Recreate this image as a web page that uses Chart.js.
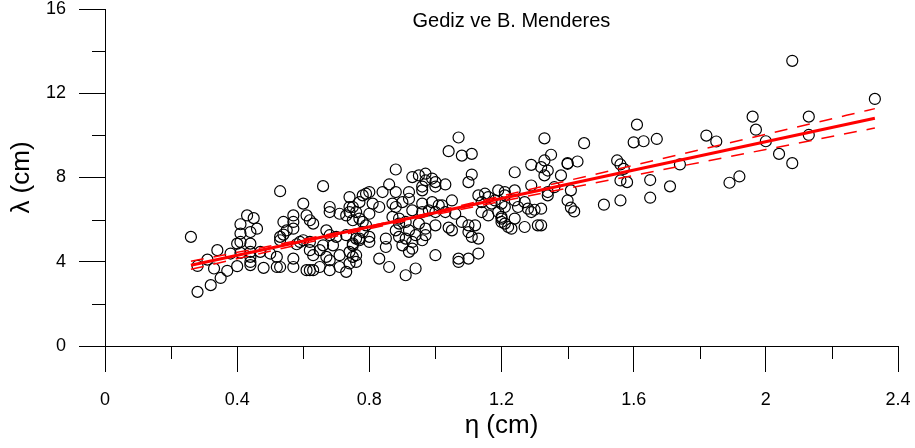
<!DOCTYPE html>
<html>
<head>
<meta charset="utf-8">
<title>Gediz ve B. Menderes</title>
<script src="https://cdn.jsdelivr.net/npm/chart.js@4.4.1/dist/chart.umd.min.js"></script>
<style>
  html, body { margin: 0; padding: 0; background: #fff; }
  canvas { display: block; }
</style>
</head>
<body>
<canvas id="myChart" width="915" height="448"></canvas>
<script>
// measured pairs: eta (cm), lambda (cm)
const samples = [
    [0.26, 5.18], [0.43, 6.20], [0.45, 6.07], [0.41, 5.78], [0.46, 5.57], [0.41, 5.34], [0.44, 5.41],
    [0.40, 4.86], [0.41, 4.94], [0.44, 4.86], [0.34, 4.55], [0.38, 4.39], [0.41, 4.42], [0.44, 4.47],
    [0.44, 4.23], [0.44, 3.99], [0.44, 3.84], [0.31, 4.10], [0.28, 3.80], [0.33, 3.68], [0.37, 3.57],
    [0.40, 3.79], [0.48, 3.71], [0.47, 4.47], [0.50, 4.39], [0.35, 3.23], [0.32, 2.89], [0.28, 2.57],
    [0.52, 3.75], [0.53, 5.18],
    [0.53, 7.35], [0.66, 7.59], [0.60, 6.76], [0.74, 7.07], [0.77, 6.83], [0.68, 6.60], [0.68, 6.36],
    [0.74, 6.60], [0.74, 6.36], [0.71, 6.28], [0.73, 6.20], [0.57, 6.20], [0.61, 6.20], [0.62, 5.97],
    [0.63, 5.81], [0.54, 5.89], [0.57, 5.89], [0.57, 5.57], [0.55, 5.49], [0.54, 5.29], [0.53, 5.02],
    [0.76, 6.36], [0.67, 5.49], [0.68, 5.26], [0.70, 5.18], [0.73, 5.26], [0.75, 4.86], [0.77, 5.02],
    [0.60, 5.02], [0.62, 4.94], [0.58, 4.83], [0.59, 4.94], [0.66, 4.78], [0.69, 4.78], [0.62, 4.55],
    [0.65, 4.55], [0.63, 4.31], [0.67, 4.23], [0.71, 4.31], [0.74, 4.47], [0.75, 4.23], [0.57, 4.15],
    [0.52, 4.23], [0.53, 3.75], [0.57, 3.75], [0.61, 3.60], [0.62, 3.60], [0.63, 3.60], [0.65, 3.75],
    [0.68, 4.07], [0.71, 3.75], [0.73, 3.52], [0.74, 3.92], [0.68, 3.60],
    [0.88, 8.38], [0.95, 8.10], [0.93, 8.02], [0.97, 8.18], [0.97, 7.86], [0.86, 7.67], [0.84, 7.31],
    [0.88, 7.31], [0.92, 7.31], [0.96, 7.39], [0.80, 7.31], [0.79, 7.23], [0.78, 7.15], [0.81, 6.76],
    [0.83, 6.60], [0.87, 6.76], [0.88, 6.60], [0.90, 6.83], [0.92, 6.99], [0.93, 6.44], [0.96, 6.76],
    [0.75, 6.60], [0.80, 6.28], [0.77, 6.05], [0.75, 5.97], [0.87, 6.13], [0.89, 6.05], [0.78, 5.89],
    [0.79, 5.73], [0.89, 5.81], [0.91, 5.89], [0.95, 5.81], [0.92, 5.49], [0.88, 5.49], [0.89, 5.18],
    [0.91, 5.10], [0.94, 5.26], [0.97, 5.26], [0.78, 5.41], [0.77, 5.10], [0.80, 5.18], [0.80, 4.94],
    [0.76, 5.10], [0.75, 4.78], [0.85, 5.10], [0.85, 4.70], [0.90, 4.78], [0.93, 4.94], [0.93, 4.62],
    [0.92, 4.47], [0.96, 5.02], [0.76, 4.31], [0.76, 3.99], [0.83, 4.15], [0.86, 3.75], [0.91, 3.36],
    [0.94, 3.68],
    [0.99, 7.95], [1.00, 7.78], [1.03, 7.67], [0.96, 7.57], [1.00, 7.57],
    [1.07, 9.90], [1.04, 9.25], [1.08, 9.04], [1.11, 9.12], [1.11, 8.14], [1.10, 7.78],
    [0.99, 6.83], [1.01, 6.68], [0.98, 6.44], [1.00, 6.36], [0.96, 6.36], [1.02, 6.68], [1.05, 6.91],
    [1.03, 6.36], [1.06, 6.28], [0.97, 5.57], [1.00, 5.73], [1.08, 5.89], [1.04, 5.62], [1.05, 5.49],
    [1.10, 5.73], [1.10, 5.41], [1.11, 5.18], [1.13, 5.10], [1.12, 5.73], [1.13, 7.15], [1.15, 7.23],
    [1.14, 6.83], [1.16, 7.07], [1.17, 6.76], [1.19, 7.39], [1.20, 6.76], [1.20, 6.13], [1.16, 6.20],
    [1.14, 6.36], [1.00, 4.31], [1.07, 4.15], [1.07, 3.99], [1.10, 4.15], [1.13, 4.39],
    [1.33, 9.86], [1.35, 9.08], [1.33, 8.81], [1.29, 8.60], [1.32, 8.49], [1.34, 8.33], [1.33, 8.10],
    [1.40, 8.65], [1.38, 8.10], [1.24, 8.25], [1.29, 7.62], [1.36, 7.54], [1.34, 7.15], [1.40, 6.91],
    [1.21, 7.31], [1.21, 7.15], [1.24, 7.39], [1.18, 6.91], [1.21, 6.60], [1.24, 6.91], [1.27, 6.83],
    [1.28, 6.52], [1.29, 6.36], [1.30, 6.47], [1.32, 6.52], [1.25, 6.60], [1.19, 6.36], [1.20, 6.05],
    [1.20, 5.89], [1.21, 5.81], [1.24, 6.05], [1.22, 5.65], [1.23, 5.57], [1.27, 5.65], [1.31, 5.73],
    [1.32, 5.73], [1.34, 7.31],
    [1.61, 10.51], [1.60, 9.67], [1.63, 9.72], [1.67, 9.83], [1.45, 9.63], [1.40, 8.68], [1.43, 8.76],
    [1.55, 8.81], [1.56, 8.62], [1.57, 8.41], [1.56, 7.86], [1.58, 7.78], [1.41, 7.39], [1.41, 6.57],
    [1.42, 6.39], [1.51, 6.71], [1.56, 6.91], [1.65, 7.88], [1.65, 7.04],
    [1.82, 9.99], [1.85, 9.71], [1.96, 10.89], [1.97, 10.27], [2.00, 9.72], [1.74, 8.62], [1.71, 7.58],
    [1.89, 7.75], [1.92, 8.05],
    [2.08, 13.54], [2.33, 11.73], [2.13, 10.89], [2.13, 10.02], [2.04, 9.12], [2.08, 8.68]
];

// least squares line end points
const fitEta = [0.26, 2.33];
const fitLambda = [3.83, 10.81];

// confidence band
const bandEta = [0.26, 0.6, 0.9, 1.2, 1.6, 2.0, 2.33];
const bandUpper = [4.02, 5.06, 6.03, 7.12, 8.58, 10.05, 11.27];
const bandLower = [3.64, 4.86, 5.91, 6.87, 8.10, 9.33, 10.35];

const xTickLabels = ['0', '0.4', '0.8', '1.2', '1.6', '2', '2.4'];
const yTickLabels = ['0', '4', '8', '12', '16'];
const xMinor = [0.2, 0.6, 1.0, 1.4, 1.8, 2.2];
const yMinor = [2, 6, 10, 14];

const chartTitle = 'Gediz ve B. Menderes';

const toPoints = (xs, ys) => xs.map((v, i) => ({ x: v, y: ys[i] }));

// short ticks between the labelled ones, plus the caption inside the plot
const extras = {
    id: 'extras',
    afterDraw(chart) {
        const { ctx, scales: { x, y } } = chart;
        ctx.save();
        ctx.strokeStyle = '#000';
        ctx.lineWidth = 1;
        ctx.beginPath();
        xMinor.forEach(v => {
            const px = Math.round(x.getPixelForValue(v)) + 0.5;
            ctx.moveTo(px, x.top);
            ctx.lineTo(px, x.top + 13);
        });
        yMinor.forEach(v => {
            const py = Math.round(y.getPixelForValue(v)) + 0.5;
            ctx.moveTo(y.right, py);
            ctx.lineTo(y.right - 13, py);
        });
        ctx.stroke();

        ctx.fillStyle = '#000';
        ctx.font = '20px "Liberation Sans", Arial, sans-serif';
        ctx.textAlign = 'center';
        ctx.textBaseline = 'middle';
        ctx.fillText(chartTitle, x.getPixelForValue(1.23), 21);
        ctx.restore();
    }
};

const ctx = document.getElementById('myChart').getContext('2d');
const chart = new Chart(ctx, {
    type: 'scatter',
    data: {
        datasets: [{
            label: 'fit',
            type: 'line',
            data: toPoints(fitEta, fitLambda),
            borderColor: '#ff0000',
            borderWidth: 3,
            pointRadius: 0,
            order: 1
        }, {
            label: 'upper',
            type: 'line',
            data: toPoints(bandEta, bandUpper),
            borderColor: '#ff0000',
            borderWidth: 1.5,
            borderDash: [13, 10],
            pointRadius: 0,
            cubicInterpolationMode: 'monotone',
            order: 1
        }, {
            label: 'lower',
            type: 'line',
            data: toPoints(bandEta, bandLower),
            borderColor: '#ff0000',
            borderWidth: 1.5,
            borderDash: [13, 10],
            pointRadius: 0,
            cubicInterpolationMode: 'monotone',
            order: 1
        }, {
            label: 'samples',
            data: samples.map(p => ({ x: p[0], y: p[1] })),
            pointStyle: 'circle',
            pointRadius: 5.5,
            borderColor: '#000',
            borderWidth: 1.2,
            backgroundColor: 'rgba(0,0,0,0)',
            order: 3
        }]
    },
    options: {
        responsive: false,
        animation: false,
        devicePixelRatio: 1,
        layout: { padding: { top: 9, right: 17, left: 0, bottom: 0 } },
        plugins: {
            legend: { display: false },
            tooltip: { enabled: false }
        },
        scales: {
            x: {
                type: 'linear',
                min: 0,
                max: 2.4,
                afterFit: s => {
                    s.height = 102;
                    s.paddingLeft = 0;
                    s.paddingRight = 0;
                },
                border: { display: true, color: '#000', width: 1 },
                grid: { drawOnChartArea: false, tickLength: 26, color: '#000' },
                ticks: {
                    stepSize: 0.4,
                    padding: 17,
                    color: '#000',
                    font: { family: '"Liberation Sans", Arial', size: 18 },
                    callback: (v) => {
                        const i = Math.round(v / 0.4);
                        return Math.abs(v - i * 0.4) < 1e-6 ? xTickLabels[i] : '';
                    }
                },
                title: {
                    display: true,
                    text: 'η (cm)',
                    color: '#000',
                    font: { family: '"Liberation Sans", Arial', size: 26 },
                    padding: { top: 0, bottom: 7 }
                }
            },
            y: {
                type: 'linear',
                min: 0,
                max: 16,
                afterFit: s => {
                    s.width = 105;
                    s.paddingTop = 0;
                    s.paddingBottom = 0;
                },
                border: { display: true, color: '#000', width: 1 },
                grid: { drawOnChartArea: false, tickLength: 26, color: '#000' },
                ticks: {
                    stepSize: 4,
                    padding: 13,
                    color: '#000',
                    font: { family: '"Liberation Sans", Arial', size: 18 },
                    callback: (v) => yTickLabels[Math.round(v / 4)]
                },
                title: {
                    display: true,
                    text: 'λ (cm)',
                    color: '#000',
                    font: { family: '"Liberation Sans", Arial', size: 26 },
                    padding: { top: 6, bottom: 0 }
                }
            }
        }
    },
    plugins: [extras]
});
</script>
</body>
</html>
